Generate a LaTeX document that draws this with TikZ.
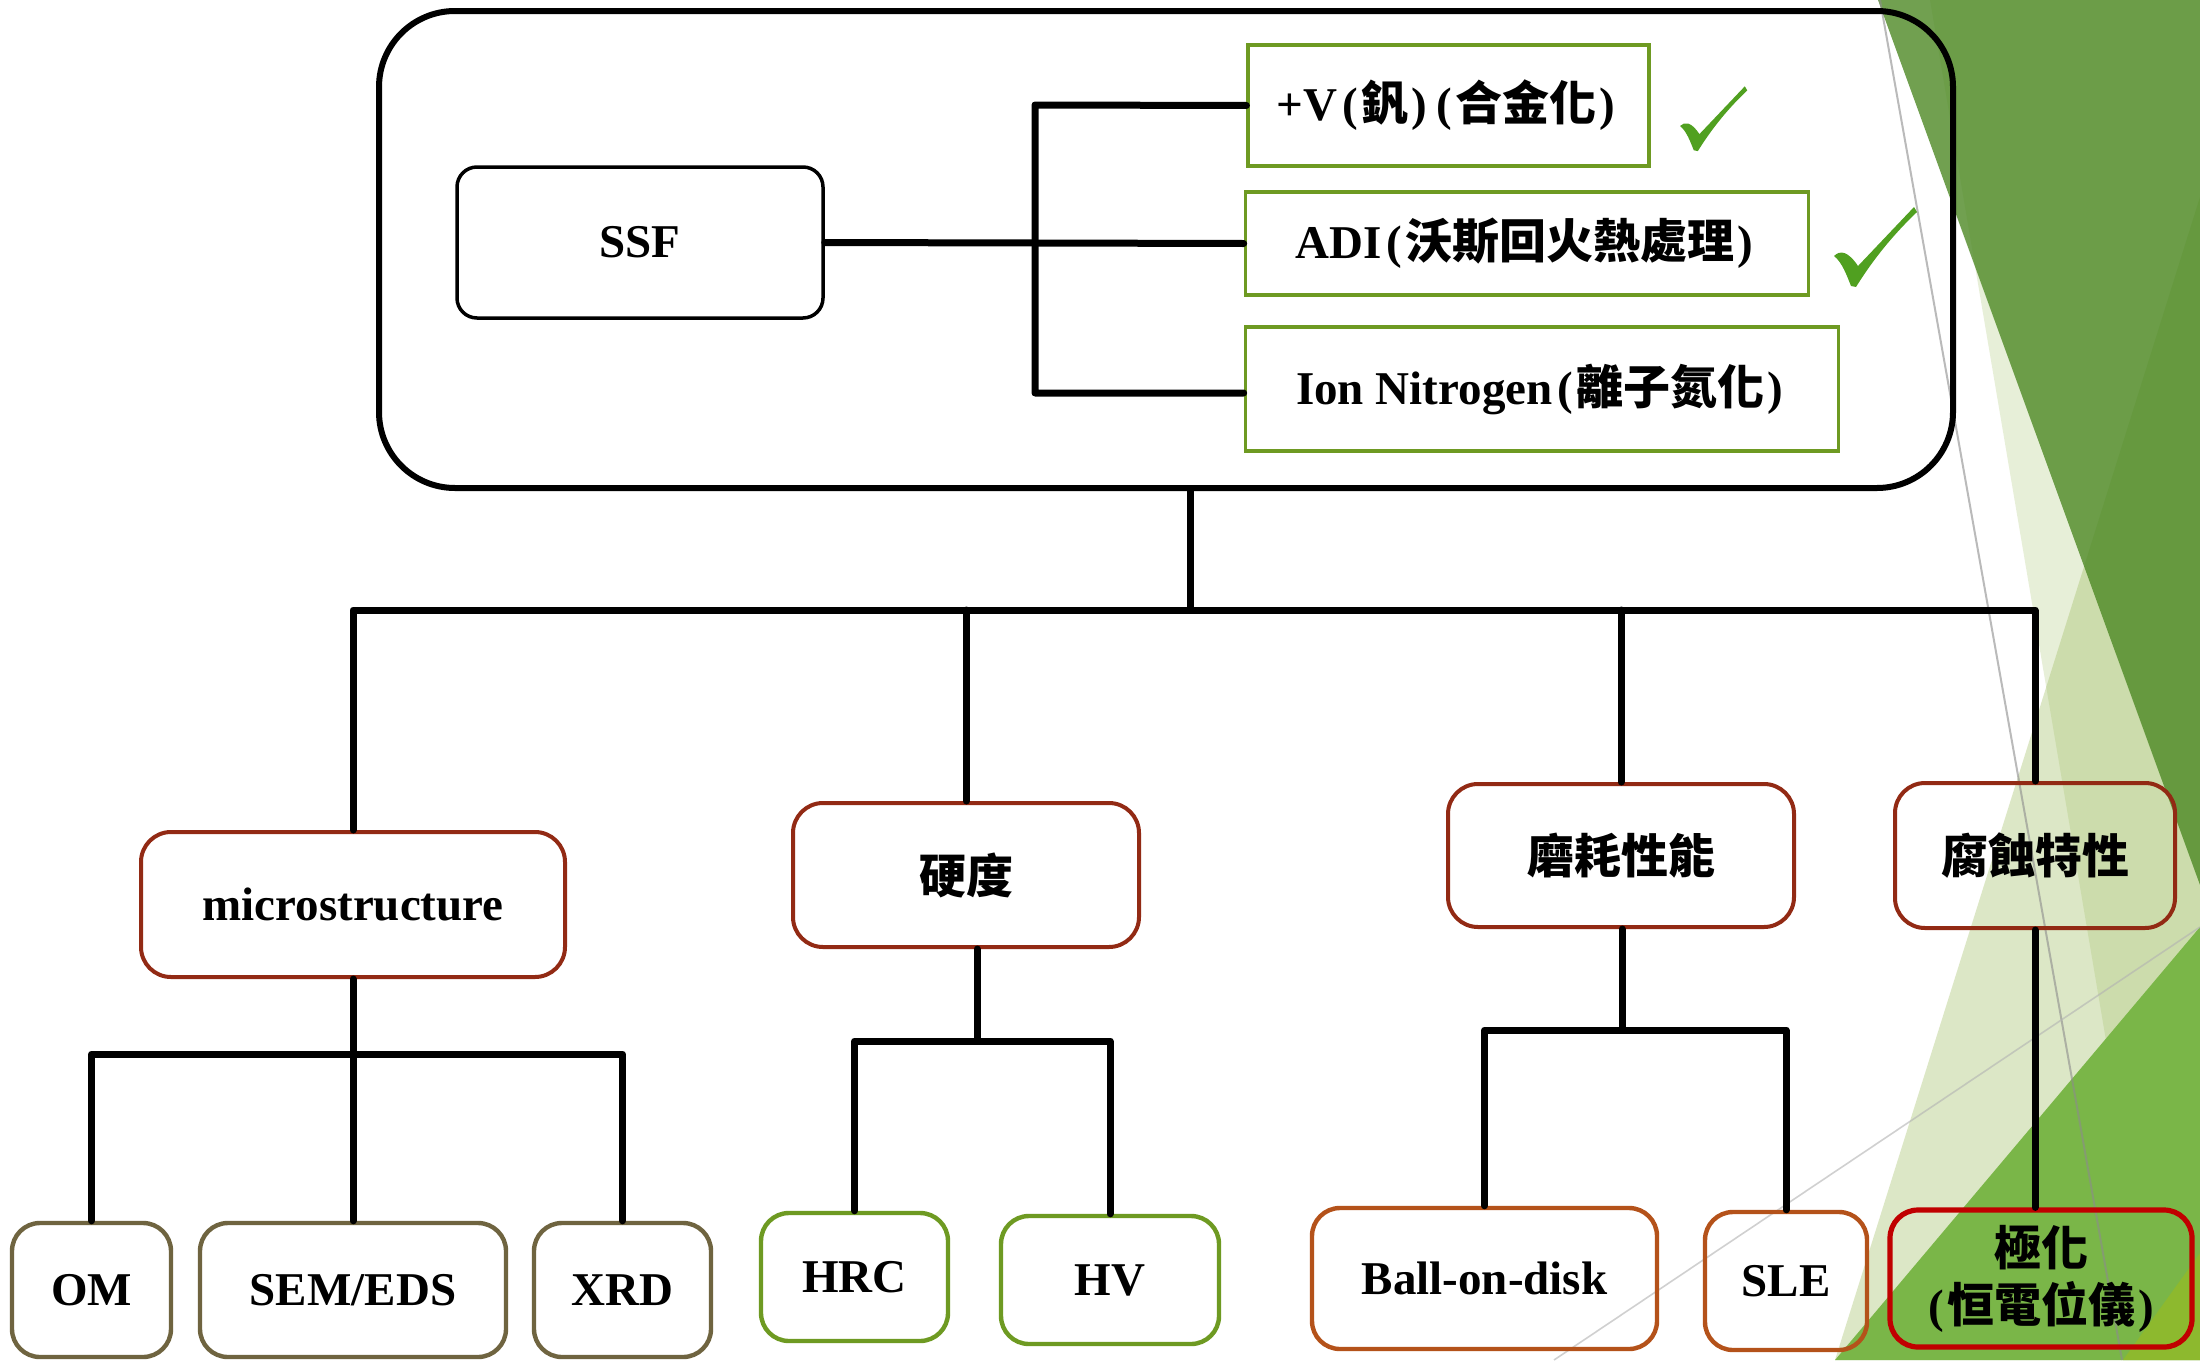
\documentclass[tikz,border=0pt]{standalone}
\usepackage{fontspec}
\setmainfont{Liberation Serif}
\newfontfamily\cjk{Noto Sans CJK TC}
\usetikzlibrary{calc}
\newcommand\zh[1]{{\cjk #1}}
\newcommand\LP{\kern2.5pt(\kern1.5pt}
\newcommand\RP{\kern1.5pt)\kern2.5pt}
\definecolor{boxgreen}{HTML}{6E9A22}
\definecolor{boxred}{HTML}{922A14}
\definecolor{boxolive}{HTML}{6F6440}
\definecolor{boxorange}{HTML}{B4521A}
\definecolor{boxcrimson}{HTML}{C00000}
\definecolor{chkgreen}{HTML}{50A020}
\definecolor{bgpale}{HTML}{9BBB59}
\definecolor{bgdark}{RGB}{75,135,34}
\definecolor{bgbright}{HTML}{7AB648}
\definecolor{bgyellow}{HTML}{8DB92E}
\begin{document}
\begin{tikzpicture}[x=0.5pt,y=-0.5pt,
  conn/.style={line width=3.5pt, line cap=round, line join=round},
  txt/.style={font=\fontsize{23.5}{28.5}\selectfont\bfseries, text=black, inner sep=0pt},
  bigbox/.style={draw, line width=3pt, rounded corners=38pt},
  ssfbox/.style={draw, line width=1.75pt, rounded corners=10pt, txt},
  gbox/.style={draw=boxgreen, line width=1.6pt, txt},
  midbox/.style={draw=boxred, line width=2pt, rounded corners=15pt, txt},
  botbox/.style={line width=2.2pt, rounded corners=14pt, txt},
  chk/.pic={\fill[chkgreen] (0,0) .. controls (6,-6) and (14,-5) .. (24,10) -- (80,-49) -- (83,-44) .. controls (60,-22) and (40,2) .. (22,31) -- (17,30) .. controls (13,20) and (8,6) .. (0,0) -- cycle;}
]
\useasboundingbox (0,0) rectangle (2200,1360);
\fill[white] (0,0) rectangle (2200,1360);
% background facets
\fill[bgpale, opacity=0.34] (1835,1360) -- (2200,197) -- (2200,1360) -- cycle;
\fill[bgpale, opacity=0.23] (1930,0) -- (2160,1360) -- (2200,1360) -- (2200,0) -- cycle;
\fill[bgdark, opacity=0.79] (1878,0) -- (2200,0) -- (2200,885) -- cycle;
\fill[bgbright] (1835,1360) -- (2200,927) -- (2200,1360) -- cycle;
\fill[bgyellow] (2123,1360) -- (2200,1253) -- (2200,1360) -- cycle;
\draw[black!45, opacity=0.6, line width=1pt] (1880,0) -- (2122,1360);
\draw[black!30, opacity=0.6, line width=0.8pt] (2200,927) -- (1554,1360);

% top group
\node[bigbox, minimum width=787pt, minimum height=238.5pt] (big) at (1166,249.5) {};
\node[ssfbox, minimum width=183pt, minimum height=75.5pt] (ssf) at (640,242.5) {SSF};
\node[gbox, minimum width=200.5pt, minimum height=60.5pt] (v) at (1448.5,105.5) {+V\LP\zh{釩}\RP\LP\zh{合金化}\RP};
\node[gbox, minimum width=281.75pt, minimum height=51.5pt] (adi) at (1527,243.5) {ADI\LP\zh{沃斯回火熱處理}\RP};
\node[gbox, minimum width=296.75pt, minimum height=62pt] (ion) at (1542,389) {Ion Nitrogen\LP\zh{離子氮化}\RP};
\pic[scale=0.81] at (1680,126) {chk};
\pic at (1834,256) {chk};

\coordinate (bt) at (1035,105);
\coordinate (bb) at (1035,393);
\draw[conn] (ssf.east) -- (adi.west);
\draw[conn] (v.west) -- (bt) -- (bb) -- (ion.west |- bb);

% middle level
\node[midbox, minimum width=212pt, minimum height=72.5pt] (micro) at (353,904.5) {microstructure};
\node[midbox, minimum width=173pt, minimum height=72pt] (hard) at (966,875) {\zh{硬度}};
\node[midbox, minimum width=173pt, minimum height=71.5pt] (wear) at (1621,855.5) {\zh{磨耗性能}};
\node[midbox, minimum width=140pt, minimum height=72.5pt] (corr) at (2035,855.5) {\zh{腐蝕特性}};

\coordinate (trunk) at (1190,610);
\draw[conn] (big.south -| trunk) -- (trunk);
\draw[conn] (micro.north) -- (micro.north |- trunk) -- (corr.north |- trunk) -- (corr.north);
\draw[conn] (hard.north) -- (hard.north |- trunk);
\draw[conn] (wear.north) -- (wear.north |- trunk);

% bottom level
\node[botbox, draw=boxolive, minimum width=79.5pt, minimum height=67pt] (om) at (91.5,1290) {OM};
\node[botbox, draw=boxolive, minimum width=153pt, minimum height=67pt] (sem) at (353,1290) {SEM/EDS};
\node[botbox, draw=boxolive, minimum width=88.5pt, minimum height=67pt] (xrd) at (622.5,1290) {XRD};
\node[botbox, draw=boxgreen, minimum width=93.5pt, minimum height=64pt] (hrc) at (854.5,1277) {HRC};
\node[botbox, draw=boxgreen, minimum width=109pt, minimum height=64pt] (hv) at (1110,1280) {HV};
\node[botbox, draw=boxorange, minimum width=172.5pt, minimum height=70.5pt] (ball) at (1484.5,1278.5) {Ball-on-disk};
\node[botbox, draw=boxorange, minimum width=81pt, minimum height=69pt] (sle) at (1786,1281) {SLE};
\node[botbox, draw=boxcrimson, line width=2.6pt, minimum width=151pt, minimum height=68.5pt, align=center] (pol) at (2041,1278.5) {\zh{極化}\\\LP\zh{恒電位儀}\RP};

\coordinate (mj) at (353,1054);
\coordinate (hj) at (977,1041);
\coordinate (wj) at (1622,1030);
\draw[conn] (micro.south) -- (sem.north);
\draw[conn] (om.north) -- (om.north |- mj) -- (xrd.north |- mj) -- (xrd.north);
\draw[conn] (hard.south -| hj) -- (hj);
\draw[conn] (hrc.north) -- (hrc.north |- hj) -- (hv.north |- hj) -- (hv.north);
\draw[conn] (wear.south -| wj) -- (wj);
\draw[conn] (ball.north) -- (ball.north |- wj) -- (sle.north |- wj) -- (sle.north);
\draw[conn] (corr.south) -- (pol.north -| corr.south);
\end{tikzpicture}
\end{document}
